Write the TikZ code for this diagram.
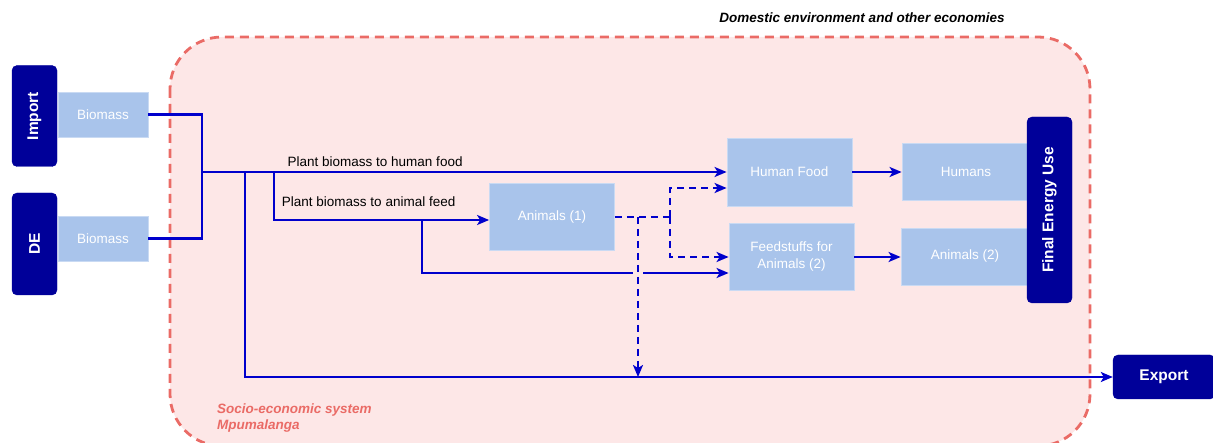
\documentclass[tikz,border=0pt]{standalone}
\usepackage{fontspec}
\setmainfont{Liberation Sans}
\usetikzlibrary{arrows.meta,calc}
\definecolor{navy}{HTML}{000099}
\definecolor{boxfill}{HTML}{A9C4EB}
\definecolor{boxline}{HTML}{C9DAF3}
\definecolor{flow}{HTML}{0000CC}
\definecolor{sysfill}{HTML}{FDE7E7}
\definecolor{sysline}{HTML}{EA6B66}
\tikzset{
  actor/.style={fill=navy, draw=navy, rounded corners=5pt, text=white,
    font=\fontsize{15.5}{18}\selectfont\bfseries, inner sep=0pt},
  stock/.style={fill=boxfill, draw=boxline, line width=0.8pt, text=white,
    font=\fontsize{13.5}{16.5}\selectfont, align=center, inner sep=0pt},
  flowline/.style={draw=flow, line width=2.1pt},
  flowarrow/.style={flowline, -{Stealth[length=12pt,width=10pt,inset=3pt]}},
  feedback/.style={flowarrow, dash pattern=on 7pt off 5pt},
  tag/.style={font=\fontsize{13.5}{16}\selectfont, text=black}
}
\begin{document}
\begin{tikzpicture}[x=1pt,y=-1pt]
\useasboundingbox (0,0) rectangle (1213,443);

% socio-economic system boundary
\draw[fill=sysfill, draw=sysline, line width=2.8pt, dash pattern=on 9pt off 6pt,
      rounded corners=52pt] (170,37) rectangle (1090,446);

\node[font=\fontsize{13.5}{16}\selectfont\bfseries\itshape, anchor=center]
  (envlabel) at (862,18) {Domestic environment and other economies};
\node[font=\fontsize{13.5}{16}\selectfont\bfseries\itshape, text=sysline, anchor=north west,
      align=left, inner sep=0pt] (syslabel) at (217,404) {Socio-economic system\\Mpumalanga};

% sources
\node[actor, minimum width=45pt, minimum height=101pt] (import) at (34.5,116) {\rotatebox{90}{Import}};
\node[actor, minimum width=45pt, minimum height=102pt] (de) at (34.5,244) {\rotatebox{90}{DE}};
\node[stock, minimum width=90pt, minimum height=45pt] (bioA) at (103,114.5) {Biomass};
\node[stock, minimum width=90pt, minimum height=45pt] (bioB) at (103,238.5) {Biomass};

% processes
\node[stock, minimum width=125pt, minimum height=67pt] (anim1) at (552,217) {Animals (1)};
\node[stock, minimum width=125pt, minimum height=68pt] (food) at (789.5,172) {Human Food};
\node[stock, minimum width=125pt, minimum height=67pt] (feed) at (791.5,256.5) {Feedstuffs for\\Animals (2)};
\node[stock, minimum width=128pt, minimum height=57pt] (humans) at (966,171.5) {Humans};
\node[stock, minimum width=128pt, minimum height=57pt] (anim2) at (965,256.5) {Animals (2)};

% sinks
\node[actor, minimum width=45pt, minimum height=186pt] (feu) at (1049.5,210) {\rotatebox{90}{Final Energy Use}};
\node[actor, minimum width=102pt, minimum height=44pt] (export) at (1164,377) {Export};

% junction points
\coordinate (join) at (202,172);
\coordinate (exsplit) at (245,172);
\coordinate (feedsplit) at (274,172);
\coordinate (fodsplit) at (422,220);
\coordinate (recycle) at (670,217);
\coordinate (leak) at (638,217);

% inputs merge
\draw[flowline] (bioA.east) -| (join);
\draw[flowline] (bioB.east) -| (join);

% plant biomass to human food
\draw[flowarrow] (join) -- (food.west)
  node[tag, pos=0.33, above=1pt] (lblfood) {Plant biomass to human food};

% plant biomass to animal feed
\draw[flowarrow] (feedsplit) |- (anim1.west |- 0,220)
  node[tag, pos=0.72, above=9pt] (lblfeed) {Plant biomass to animal feed};

% fodder to feedstuffs
\draw[flowarrow] (fodsplit) |- (feed.west |- 0,273);

% export
\draw[flowarrow] (exsplit) |- (export.west);

% line hop over the dashed flow
\draw[draw=sysfill, line width=3pt] (633,273) -- (643,273);

% animal products fed back
\draw[flowline, dash pattern=on 7pt off 5pt] (anim1.east |- leak) -- (recycle);
\draw[feedback] (recycle) |- (food.west |- 0,188);
\draw[feedback] (recycle) |- (feed.west |- 0,257);
\draw[feedback] (leak) -- (leak |- export.west);

% to final use
\draw[flowarrow] (food.east) -- (humans.west |- food.east);
\draw[flowarrow] (feed.east |- 0,257) -- (anim2.west |- 0,257);
\end{tikzpicture}
\end{document}
